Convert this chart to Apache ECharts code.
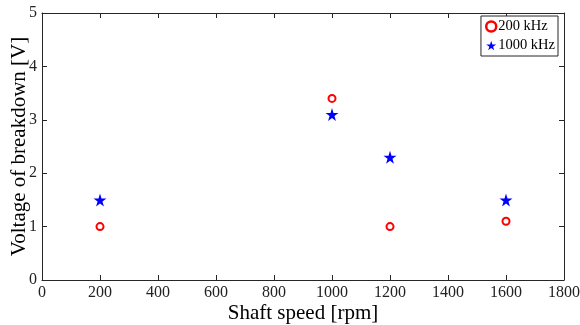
<!DOCTYPE html>
<html>
<head>
<meta charset="utf-8">
<script src="https://cdn.jsdelivr.net/npm/echarts@6/dist/echarts.min.js"></script>
<style>html,body{margin:0;padding:0;background:#fff}#c{width:580px;height:325px}</style>
</head>
<body>
<div id="c"></div>
<script>
const shaftSpeed = [200, 1000, 1200, 1600];
const v200kHz = [1.0, 3.4, 1.0, 1.1];
const v1000kHz = [1.5, 3.1, 2.3, 1.5];

const STAR = "path://M50,0 L61,35 L98,35 L68,57 L79,91 L50,70 L21,91 L32,57 L2,35 L39,35 Z";
const font = "Liberation Serif";
const axisColor = "#262626";

const chart = echarts.init(document.getElementById("c"), null, { renderer: "canvas" });

const xBase = {
  type: "value", min: 0, max: 1800, interval: 200,
  axisLine: { onZero: false, lineStyle: { color: axisColor, width: 1 } },
  axisTick: { inside: true, length: 5, lineStyle: { color: axisColor } },
  splitLine: { show: false },
};
const yBase = {
  type: "value", min: 0, max: 5, interval: 1,
  axisLine: { onZero: false, lineStyle: { color: axisColor, width: 1 } },
  axisTick: { inside: true, length: 5, lineStyle: { color: axisColor } },
  splitLine: { show: false },
};

chart.setOption({
  animation: false,
  backgroundColor: "#fff",
  textStyle: { fontFamily: font },
  grid: { left: 42, right: 16, top: 13, bottom: 45, containLabel: false, outerBoundsMode: "none" },
  legend: {
    orient: "vertical", right: 22, top: 16,
    data: [
      { name: "200 kHz", icon: "circle", itemStyle: { borderWidth: 2.5 } },
      { name: "1000 kHz", icon: STAR },
    ],
    itemWidth: 10, itemHeight: 10, itemGap: 4,
    padding: [3, 3, 3, 4],
    borderColor: axisColor, borderWidth: 1,
    backgroundColor: "#fff",
    textStyle: { fontFamily: font, fontSize: 14.5, color: "#000", padding: [0, 0, 0, -3] },
  },
  xAxis: [
    {
      ...xBase, position: "bottom",
      name: "Shaft speed [rpm]", nameLocation: "middle", nameGap: 23, nameMoveOverlap: false,
      nameTextStyle: { fontFamily: font, fontSize: 21, color: "#000" },
      axisLabel: { fontFamily: font, fontSize: 16, color: "#222", margin: 5, formatter: (v) => String(v) },
    },
    { ...xBase, position: "top", axisLabel: { show: false } },
  ],
  yAxis: [
    {
      ...yBase, position: "left",
      name: "Voltage of breakdown [V]", nameLocation: "middle", nameGap: 12, nameMoveOverlap: false,
      nameTextStyle: { fontFamily: font, fontSize: 21, color: "#000" },
      axisLabel: { fontFamily: font, fontSize: 16, color: "#222", margin: 5 },
    },
    { ...yBase, position: "right", axisLabel: { show: false } },
  ],
  series: [
    {
      name: "200 kHz", type: "scatter",
      data: shaftSpeed.map((x, i) => [x, v200kHz[i]]),
      symbol: "circle", symbolSize: 7,
      itemStyle: { color: "#fff", borderColor: "#ff0000", borderWidth: 2, opacity: 1 },
    },
    {
      name: "1000 kHz", type: "scatter",
      data: shaftSpeed.map((x, i) => [x, v1000kHz[i]]),
      symbol: STAR, symbolSize: 13,
      itemStyle: { color: "#0000ff", opacity: 1 },
    },
  ],
});
</script>
</body>
</html>
